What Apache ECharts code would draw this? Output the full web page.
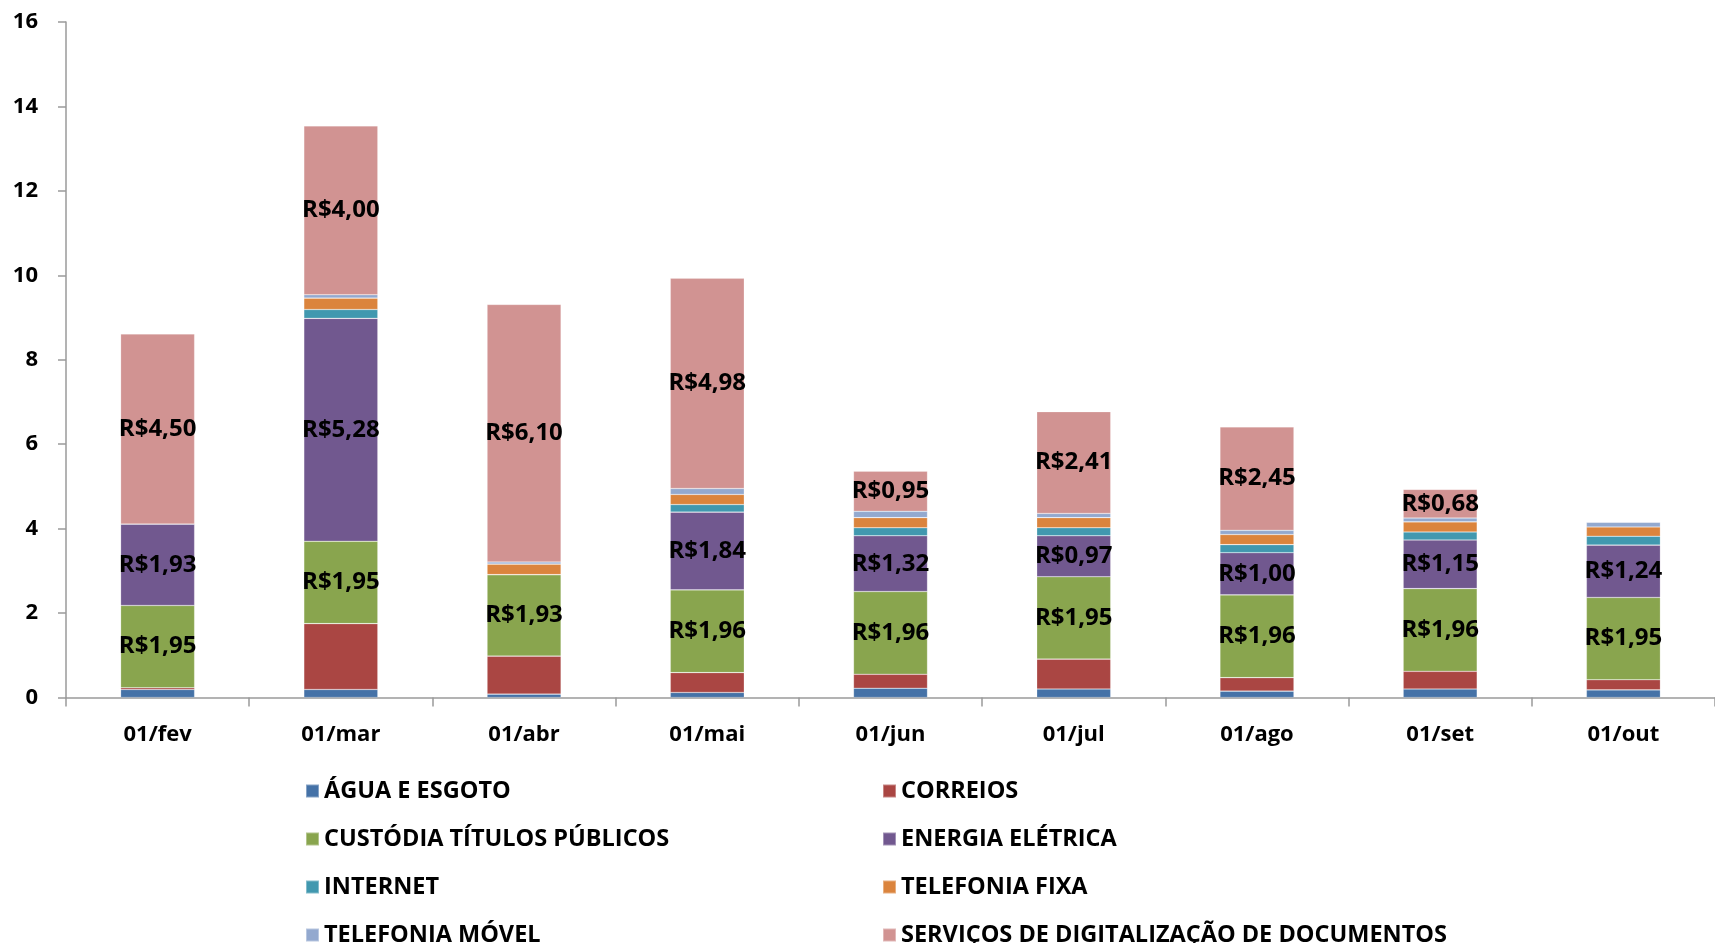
<!DOCTYPE html>
<html>
<head>
<meta charset="utf-8">
<script src="https://cdn.jsdelivr.net/npm/echarts@6/dist/echarts.min.js"></script>
<style>
  html, body { margin: 0; padding: 0; background: #fff; }
  #main { width: 1715px; height: 943px; }
</style>
</head>
<body>
<div id="main"></div>
<script>
// meses
var categorias = ['01/fev', '01/mar', '01/abr', '01/mai', '01/jun', '01/jul', '01/ago', '01/set', '01/out'];

// valores por serviço (R$)
var agua       = [0.19, 0.19, 0.08, 0.12, 0.22, 0.20, 0.15, 0.20, 0.18];
var correios   = [0.04, 1.56, 0.90, 0.47, 0.33, 0.71, 0.32, 0.42, 0.24];
var custodia   = [1.95, 1.95, 1.93, 1.96, 1.96, 1.95, 1.96, 1.96, 1.95];
var energia    = [1.93, 5.28, 0,    1.84, 1.32, 0.97, 1.00, 1.15, 1.24];
var internet   = [0,    0.21, 0,    0.18, 0.19, 0.19, 0.19, 0.19, 0.21];
var telFixa    = [0,    0.27, 0.25, 0.24, 0.24, 0.24, 0.24, 0.24, 0.22];
var telMovel   = [0,    0.08, 0.05, 0.14, 0.15, 0.10, 0.10, 0.09, 0.11];
var digitaliz  = [4.50, 4.00, 6.10, 4.98, 0.95, 2.41, 2.45, 0.68, 0];

var yTicks = [0, 2, 4, 6, 8, 10, 12, 14, 16];

var nomes = ['ÁGUA E ESGOTO', 'CORREIOS', 'CUSTÓDIA TÍTULOS PÚBLICOS', 'ENERGIA ELÉTRICA',
             'INTERNET', 'TELEFONIA FIXA', 'TELEFONIA MÓVEL', 'SERVIÇOS DE DIGITALIZAÇÃO DE DOCUMENTOS'];
var cores = ['#4572A7', '#AA4643', '#89A54E', '#71588F', '#4198AF', '#DB843D', '#93A9CF', '#D19392'];
var dados = [agua, correios, custodia, energia, internet, telFixa, telMovel, digitaliz];
var comRotulo = [false, false, true, true, false, false, false, true];

var fonte = '"Open Sans", "Noto Sans", sans-serif';

function formatar(v) {
  return 'R$' + v.toFixed(2).replace('.', ',');
}

var series = nomes.map(function (nome, i) {
  return {
    name: nome,
    type: 'bar',
    stack: 'total',
    barWidth: 74,
    data: dados[i],
    itemStyle: {
      color: cores[i],
      borderColor: 'rgba(255,255,255,0.35)',
      borderWidth: 0.6
    },
    label: {
      show: comRotulo[i],
      position: 'inside',
      color: '#000',
      fontFamily: fonte,
      fontWeight: 'bold',
      fontSize: 24,
      formatter: function (p) { return p.value > 0 ? formatar(p.value) : ''; }
    }
  };
});

var legendaTexto = { color: '#000', fontFamily: fonte, fontWeight: 'bold', fontSize: 23.5 };

var chart = echarts.init(document.getElementById('main'));
chart.setOption({
  animation: false,
  backgroundColor: '#fff',
  grid: { left: 66, top: 22, width: 1660, height: 675.5 },
  legend: [
    {
      orient: 'vertical', left: 300, top: 774, height: 400,
      itemWidth: 13, itemHeight: 13, itemGap: 24, icon: 'rect',
      textStyle: legendaTexto,
      data: [nomes[0], nomes[2], nomes[4], nomes[6]]
    },
    {
      orient: 'vertical', left: 877, top: 774, height: 400,
      itemWidth: 13, itemHeight: 13, itemGap: 24, icon: 'rect',
      textStyle: legendaTexto,
      data: [nomes[1], nomes[3], nomes[5], nomes[7]]
    }
  ],
  xAxis: {
    type: 'category',
    data: categorias,
    axisLine: { lineStyle: { color: '#9a9a9a', width: 1.5 } },
    axisTick: { show: true, alignWithLabel: false, length: 9, lineStyle: { color: '#9a9a9a', width: 1.5 } },
    axisLabel: { color: '#000', fontFamily: fonte, fontWeight: 'bold', fontSize: 22, margin: 26 }
  },
  yAxis: {
    type: 'value',
    min: yTicks[0],
    max: yTicks[yTicks.length - 1],
    interval: yTicks[1] - yTicks[0],
    splitLine: { show: false },
    axisLine: { show: true, lineStyle: { color: '#9a9a9a', width: 1.5 } },
    axisTick: { show: true, length: 8, lineStyle: { color: '#9a9a9a', width: 1.5 } },
    axisLabel: { color: '#000', fontFamily: fonte, fontWeight: 'bold', fontSize: 22, margin: 28 }
  },
  series: series
});
</script>
</body>
</html>
